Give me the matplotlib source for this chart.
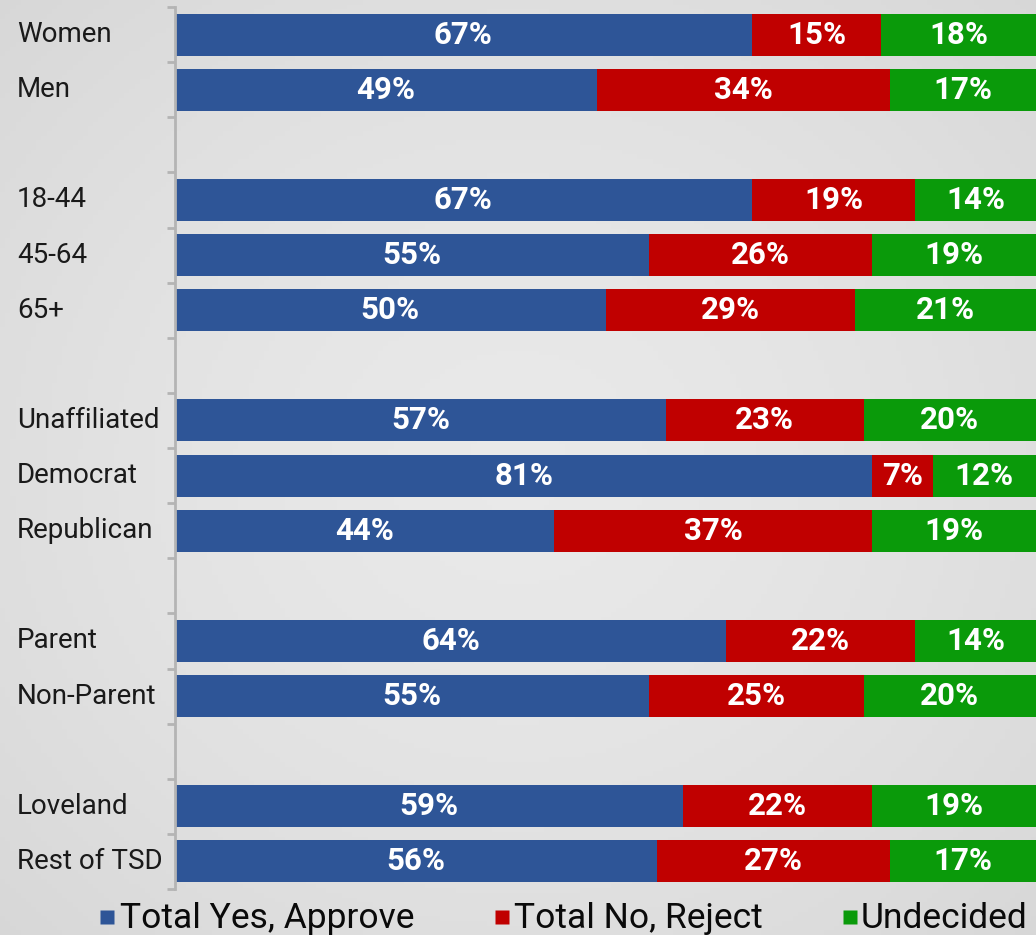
import numpy as np
import matplotlib
matplotlib.use("Agg")
import matplotlib.pyplot as plt
from matplotlib.lines import Line2D
from matplotlib import transforms

# ---- data ----
groups = [
    ["Women", "Men"],
    ["18-44", "45-64", "65+"],
    ["Unaffiliated", "Democrat", "Republican"],
    ["Parent", "Non-Parent"],
    ["Loveland", "Rest of TSD"],
]
yes_vals = [67, 49, 67, 55, 50, 57, 81, 44, 64, 55, 59, 56]
no_vals = [15, 34, 19, 26, 29, 23, 7, 37, 22, 25, 22, 27]
und_vals = [18, 17, 14, 19, 21, 20, 12, 19, 14, 20, 19, 17]
series_names = ["Total Yes, Approve", "Total No, Reject", "Undecided"]

colors = ["#2E5597", "#C00000", "#0A9A0A"]

plt.rcParams['font.family'] = ['Roboto', 'DejaVu Sans']

W, H = 1036, 935
fig = plt.figure(figsize=(W / 100, H / 100), dpi=100)

# background radial gradient
bg = fig.add_axes([0, 0, 1, 1], zorder=-10)
yy, xx = np.mgrid[0:1:200j, 0:1:200j]
r = np.sqrt((xx - 0.5) ** 2 + (yy - 0.5) ** 2) / 0.707
g = 0.915 - 0.07 * r ** 1.5
bg.imshow(np.dstack([g, g, g]), aspect='auto', extent=[0, 1, 0, 1])
bg.set_xlim(0, 1)
bg.set_ylim(0, 1)
bg.axis('off')

# positions: each group separated by one blank slot
labels = []
positions = []
slot = 0
for gi, grp in enumerate(groups):
    for lab in grp:
        labels.append(lab)
        positions.append(slot)
        slot += 1
    slot += 1
n_slots = slot - 1  # last gap not used
positions = np.array(positions)

ax = fig.add_axes([175 / W, (H - 889) / H, 1 - 175 / W, (889 - 7) / H])
ax.set_facecolor('none')
ax.set_xlim(0, 100)
ax.set_ylim(n_slots - 0.5, -0.5)

bar_h = 0.76
lefts = np.zeros(len(labels))
for vals, col in zip([yes_vals, no_vals, und_vals], colors):
    vals = np.array(vals, dtype=float)
    ax.barh(positions, vals, left=lefts, height=bar_h, color=col, edgecolor='none')
    for p, l, v in zip(positions, lefts, vals):
        ax.text(l + v / 2, p, f"{int(v)}%", ha='center', va='center',
                color='white', fontsize=22.5, fontweight='bold')
    lefts = lefts + vals

# axes styling
for s in ['top', 'right', 'bottom']:
    ax.spines[s].set_visible(False)
ax.spines['left'].set_color('#b4b4b4')
ax.spines['left'].set_linewidth(2)
ax.set_xticks([])
ax.set_yticks(np.arange(-0.5, n_slots, 1.0))
ax.set_yticklabels([])
ax.tick_params(axis='y', length=6, width=2, color='#b4b4b4', direction='out')

# category labels, left aligned
trans = transforms.blended_transform_factory(fig.transFigure, ax.transData)
for lab, p in zip(labels, positions):
    ax.text(17 / W, p, lab, transform=trans, ha='left', va='center',
            fontsize=20, color='#1a1a1a')

# legend (square marker + label)
leg_marker_x = [107, 502, 850]
leg_text_x = [120, 514, 861]
leg_y = 1 - 917 / H
for name, col, mx, tx in zip(series_names, colors, leg_marker_x, leg_text_x):
    fig.add_artist(Line2D([mx / W], [leg_y], marker='s', markersize=10,
                          markerfacecolor=col, markeredgecolor='none',
                          linestyle='none', transform=fig.transFigure))
    fig.text(tx / W, 1 - 928 / H, name, ha='left', va='baseline',
             fontsize=25.5, color='#0a0a0a')

fig.savefig("out.png", dpi=100)
